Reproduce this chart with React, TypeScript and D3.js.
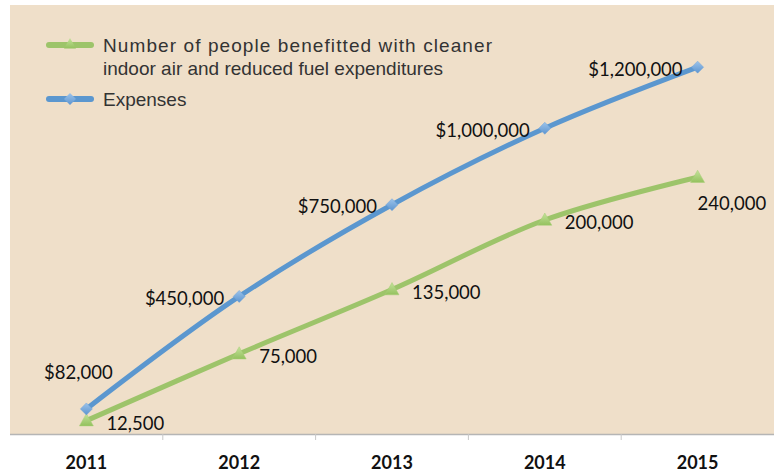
import React from "react";
import * as d3 from "d3";

const years = ["2011", "2012", "2013", "2014", "2015"];
const expenses = [82000, 450000, 750000, 1000000, 1200000];
const people = [12500, 75000, 135000, 200000, 240000];
const expenseLabels = ["$82,000", "$450,000", "$750,000", "$1,000,000", "$1,200,000"];
const peopleLabels = ["12,500", "75,000", "135,000", "200,000", "240,000"];
const legendPeople = ["Number of people benefitted with cleaner", "indoor air and reduced fuel expenditures"];
const legendExpenses = "Expenses";

const W = 774, H = 473;
const BLUE = "#5b97cf";
const GREEN = "#9dc46a";
const BG = "#efdfc9";
const FONT = "Lato, 'Open Sans', sans-serif";
const LFONT = "'Liberation Sans', Arial, sans-serif";

export default function App() {
  const x = d3.scaleBand().domain(years).range([10, 774]);
  const yL = d3.scaleLinear().domain([0, 1400000]).range([434, 6]);
  const yR = d3.scaleLinear().domain([0, 400000]).range([434, 6]);
  const cx = (d: string) => (x(d) as number) + x.bandwidth() / 2;

  const lineE = d3.line<number>().x((_, i) => cx(years[i])).y((v) => yL(v)).curve(d3.curveCatmullRom);
  const lineP = d3.line<number>().x((_, i) => cx(years[i])).y((v) => yR(v)).curve(d3.curveCatmullRom);

  const diamond = (px: number, py: number, r = 6) => `M${px},${py - r}L${px + r},${py}L${px},${py + r}L${px - r},${py}Z`;
  const tri = (px: number, py: number, r = 7) => `M${px},${py - r}L${px + r},${py + r * 0.75}L${px - r},${py + r * 0.75}Z`;

  const boundaries = years.slice(1).map((d) => x(d) as number);

  const eLabelPos = expenses.map((v, i) => {
    const px = cx(years[i]), py = yL(v);
    if (i === 0) return { x: px - 8, y: py - 36, anchor: "middle" };
    return { x: px - 15, y: py + 2, anchor: "end" };
  });
  const pLabelPos = people.map((v, i) => {
    const px = cx(years[i]), py = yR(v);
    if (i === people.length - 1) return { x: px, y: py + 26, anchor: "start" };
    return { x: px + 20, y: py + 3, anchor: "start" };
  });

  return (
    <svg width={W} height={H} style={{ position: "absolute", left: 0, top: 0, background: "#fff" }}>
      <defs>
        <linearGradient id="gd" x1="0" y1="0" x2="0" y2="1">
          <stop offset="0" stopColor="#9cc3ea" />
          <stop offset="1" stopColor="#5d95d0" />
        </linearGradient>
        <linearGradient id="gt" x1="0" y1="0" x2="0" y2="1">
          <stop offset="0" stopColor="#c4e29a" />
          <stop offset="1" stopColor="#94c15e" />
        </linearGradient>
      </defs>
      <rect x={10} y={5} width={764} height={429} fill={BG} />
      <line x1={10} x2={774} y1={434.5} y2={434.5} stroke="#b5b5b5" strokeWidth={1.5} />
      {boundaries.map((b, i) => (
        <line key={i} x1={b} x2={b} y1={434} y2={440} stroke="#c8c8c8" strokeWidth={1} />
      ))}
      {years.map((d) => (
        <text key={d} x={cx(d)} y={469} textAnchor="middle" fontFamily={FONT} fontWeight="bold" fontSize={18} fill="#111">
          {d}
        </text>
      ))}

      <path d={lineP(people) || ""} fill="none" stroke={GREEN} strokeWidth={5} strokeLinejoin="round" />
      <path d={lineE(expenses) || ""} fill="none" stroke={BLUE} strokeWidth={5} strokeLinejoin="round" />
      {people.map((v, i) => (
        <path key={i} d={tri(cx(years[i]), yR(v))} fill="url(#gt)" stroke="#a6cf76" strokeWidth={0.5} />
      ))}
      {expenses.map((v, i) => (
        <path key={i} d={diamond(cx(years[i]), yL(v))} fill="url(#gd)" stroke="#6fa3d8" strokeWidth={0.5} />
      ))}

      {expenseLabels.map((t, i) => (
        <text key={t} x={eLabelPos[i].x} y={eLabelPos[i].y} dy="0.35em" textAnchor={eLabelPos[i].anchor as any} fontFamily={FONT} fontSize={18.5} fill="#111">
          {t}
        </text>
      ))}
      {peopleLabels.map((t, i) => (
        <text key={t} x={pLabelPos[i].x} y={pLabelPos[i].y} dy="0.35em" textAnchor={pLabelPos[i].anchor as any} fontFamily={FONT} fontSize={18.5} fill="#111">
          {t}
        </text>
      ))}

      <line x1={49} x2={91} y1={45} y2={45} stroke={GREEN} strokeWidth={6} strokeLinecap="round" />
      <path d={tri(70, 44, 6)} fill="url(#gt)" />
      <line x1={49} x2={91} y1={99} y2={99} stroke={BLUE} strokeWidth={6} strokeLinecap="round" />
      <path d={diamond(70, 99, 6)} fill="url(#gd)" />
      <text x={103} y={52} fontFamily={LFONT} fontSize={19} fill="#333" textLength={389} lengthAdjust="spacing">
        {legendPeople[0]}
      </text>
      <text x={103} y={75} fontFamily={LFONT} fontSize={19} fill="#333">
        {legendPeople[1]}
      </text>
      <text x={103} y={106} fontFamily={LFONT} fontSize={19} fill="#333">
        {legendExpenses}
      </text>
    </svg>
  );
}
